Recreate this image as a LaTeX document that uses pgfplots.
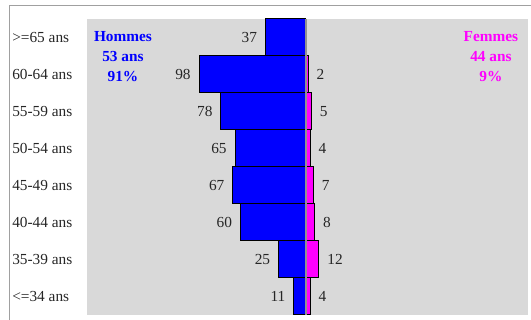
\documentclass[border=0pt]{standalone}
\usepackage{pgfplots}
\pgfplotsset{compat=1.18}
\usepackage{pgfplotstable}
\usepackage{fontspec}
\setmainfont{Liberation Serif}
\definecolor{bg}{RGB}{217,217,217}
\definecolor{fr}{RGB}{160,160,160}
\definecolor{mid}{RGB}{145,145,145}
\definecolor{hblue}{RGB}{0,0,255}
\definecolor{fmag}{RGB}{255,0,255}
\pgfplotstableread{
y m
7 37
6 98
5 78
4 65
3 67
2 60
1 25
0 11
}\males
\pgfplotstableread{
y f
6 2
5 5
4 4
3 7
2 8
1 12
0 4
}\females
\begin{document}
\begin{tikzpicture}
\useasboundingbox (0,0) rectangle (398.25pt,240pt);
\draw[fr, line width=0.75pt] (6.75pt,0) -- (6.75pt,235.5pt) -- (400pt,235.5pt);
\begin{axis}[
  at={(65.25pt,3.75pt)}, anchor=south west,
  scale only axis, width=330.75pt, height=222pt,
  xbar, bar width=1, bar shift=0pt,
  xmin=-201, xmax=204, ymin=-0.5, ymax=7.5,
  axis background/.style={fill=bg},
  axis line style={draw=none},
  xtick=\empty, ytick={0,...,7},
  yticklabels={{<=34 ans},{35-39 ans},{40-44 ans},{45-49 ans},{50-54 ans},{55-59 ans},{60-64 ans},{>=65 ans}},
  major tick length=0pt,
  yticklabel style={anchor=west, xshift=-56.25pt, inner sep=0pt, text=black!85, font=\fontsize{11.5}{14}\selectfont},
  point meta=explicit symbolic,
  nodes near coords={\pgfplotspointmeta},
  every node near coord/.append style={font=\fontsize{11.5}{14}\selectfont, text=black!85, inner sep=0pt},
  clip=false,
]
\addplot[fill=hblue, draw=black, line width=0.75pt,
  every node near coord/.append style={anchor=east, xshift=-6pt}] table[x expr=-\thisrow{m}, y=y, meta=m] {\males};
\addplot[fill=fmag, draw=black, line width=0.75pt,
  every node near coord/.append style={anchor=west, xshift=6pt}] table[x=f, y=y, meta=f] {\females};
\draw[mid, line width=1.5pt] (axis cs:0,-0.5) -- (axis cs:0,7.5);
\node[font=\bfseries\fontsize{11.5}{15}\selectfont, text=hblue, align=center] at (rel axis cs:0.0816,0.8716) {Hommes\\53 ans\\91\%};
\node[font=\bfseries\fontsize{11.5}{15}\selectfont, text=fmag, align=center] at (rel axis cs:0.916,0.8716) {Femmes\\44 ans\\9\%};
\end{axis}
\end{tikzpicture}
\end{document}
